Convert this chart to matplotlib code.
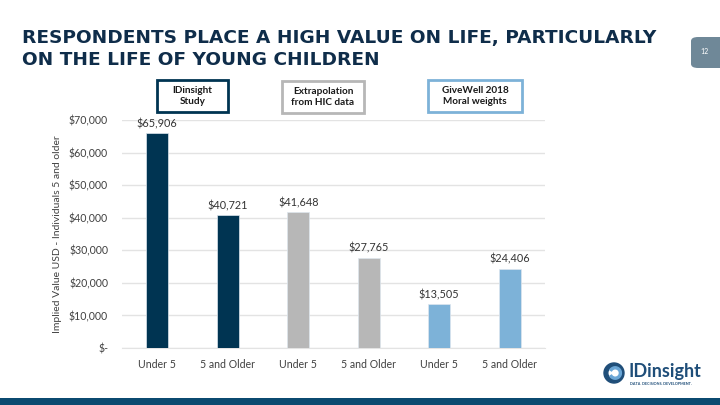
"""
IDinsight slide: implied value of life by age group and source.
"""

import matplotlib.pyplot as plt
from matplotlib.patches import Rectangle, Wedge, FancyBboxPatch
from matplotlib.ticker import FuncFormatter

# Daten
categories = ["Under 5", "5 and Older", "Under 5", "5 and Older", "Under 5", "5 and Older"]
values = [65906, 40721, 41648, 27765, 13505, 24406]
sources = ["IDinsight\nStudy", "Extrapolation\nfrom HIC data", "GiveWell 2018\nMoral weights"]
y_ticks = [0, 10000, 20000, 30000, 40000, 50000, 60000, 70000]

NAVY = "#003452"
GRAY = "#B7B7B7"
LIGHT_BLUE = "#7DB2D8"
TITLE_COLOR = "#0F2D4A"
bar_colors = [NAVY, NAVY, GRAY, GRAY, LIGHT_BLUE, LIGHT_BLUE]
source_edges = [NAVY, GRAY, LIGHT_BLUE]

plt.rcParams["font.family"] = ["Lato", "DejaVu Sans"]

fig = plt.figure(figsize=(7.2, 4.05), dpi=100)


def px(x0, y0, w, h):
    """Pixelkoordinaten (oben links) -> Figurenkoordinaten."""
    return (x0 / 720, 1 - (y0 + h) / 405), w / 720, h / 405


# Titel
fig.text(22 / 720, 1 - 38 / 405, "RESPONDENTS PLACE A HIGH VALUE ON LIFE, PARTICULARLY",
         family="DejaVu Sans", fontsize=13.3, fontweight="bold", color=TITLE_COLOR,
         va="center")
fig.text(22 / 720, 1 - 60 / 405, "ON THE LIFE OF YOUNG CHILDREN",
         family="DejaVu Sans", fontsize=13.3, fontweight="bold", color=TITLE_COLOR,
         va="center")

# Seitenzahl
xy, w, h = px(691, 37, 40, 31)
fig.patches.append(FancyBboxPatch(xy, w, h, boxstyle="round,pad=0,rounding_size=0.01",
                                  transform=fig.transFigure, facecolor="#6F8898",
                                  edgecolor="none"))
fig.text(704 / 720, 1 - 52 / 405, "12", fontsize=5, color="white", ha="center", va="center")

# Balken
ax = fig.add_axes([122 / 720, 1 - 348 / 405, 423 / 720, 228 / 405])
x = list(range(len(values)))
bars = ax.bar(x, values, width=0.31, color=bar_colors, edgecolor="#DDE6EE", linewidth=0.5,
              zorder=3)
for bar, val in zip(bars, values):
    ax.text(bar.get_x() + bar.get_width() / 2, val + 1200, f"${val:,.0f}",
            ha="center", va="bottom", fontsize=7.8, color="#333333")

ax.set_xlim(-0.5, len(values) - 0.5)
ax.set_ylim(0, 70000)
ax.set_yticks(y_ticks)
ax.yaxis.set_major_formatter(FuncFormatter(lambda v, p: "$-" if v == 0 else f"${v:,.0f}"))
ax.set_xticks(x)
ax.set_xticklabels(categories)
ax.tick_params(axis="both", length=0, labelsize=7.6, labelcolor="#404040")
ax.tick_params(axis="x", pad=8)
ax.tick_params(axis="y", pad=10)
ax.grid(axis="y", color="#E3E3E3", linewidth=1, zorder=0)
for side in ["top", "right", "left"]:
    ax.spines[side].set_visible(False)
ax.spines["bottom"].set_color("#E3E3E3")
ax.set_ylabel("Implied Value USD - Individuals 5 and older", fontsize=7.5, color="#404040",
              labelpad=5)

# Quellen-Kästen
box_px = [(157, 80, 71, 32), (282, 81, 82, 32), (428, 80, 94, 32)]
for (bx, by, bw, bh), label, edge in zip(box_px, sources, source_edges):
    xy, w, h = px(bx, by, bw, bh)
    fig.patches.append(Rectangle(xy, w, h, transform=fig.transFigure, facecolor="white",
                                 edgecolor=edge, linewidth=2))
    fig.text((bx + bw / 2) / 720, 1 - (by + bh / 2) / 405, label, ha="center", va="center",
             fontsize=7.2, fontweight="bold", color="#1A1A1A", linespacing=1.3)

# Logo
logo_ax = fig.add_axes([603 / 720, 1 - 386 / 405, 22 / 720, 26 / 405])
logo_ax.set_xlim(-1.1, 1.1)
logo_ax.set_ylim(-1.3, 1.3)
logo_ax.set_aspect("equal")
logo_ax.axis("off")
logo_ax.add_patch(Wedge((0, 0), 1.0, 0, 360, width=0.38, color="#1F4E79"))
logo_ax.add_patch(Wedge((0.12, 0), 0.62, 210, 150, width=0.2, color="#6AA6D6"))
fig.text(629 / 720, 1 - 371 / 405, "IDinsight", fontsize=13, fontweight="bold",
         color="#1F4E79", ha="left", va="center")
fig.text(630 / 720, 1 - 384 / 405, "DATA. DECISIONS. DEVELOPMENT.", fontsize=2.7,
         fontweight="bold", color="#1F4E79", ha="left", va="center")

# Fußleiste
fig.patches.append(Rectangle((0, 0), 1, 7 / 405, transform=fig.transFigure,
                             facecolor="#0B4A70", edgecolor="none"))

fig.savefig("out.png", dpi=100)
